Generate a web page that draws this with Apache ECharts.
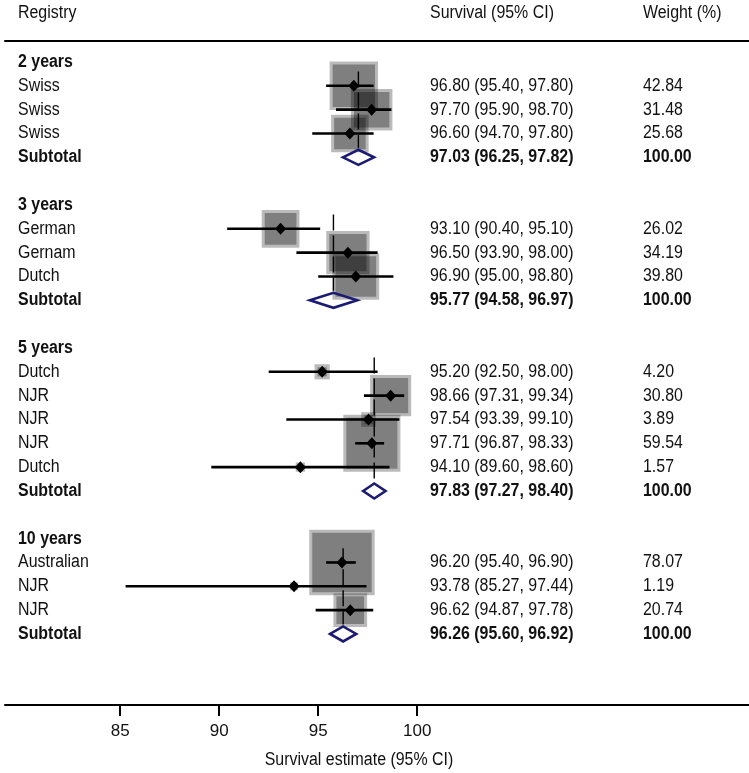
<!DOCTYPE html>
<html>
<head>
<meta charset="utf-8">
<script src="https://cdn.jsdelivr.net/npm/echarts@6/dist/echarts.min.js"></script>
<style>
  html, body { margin: 0; padding: 0; background: #fff; }
  #main { width: 749px; height: 773px; }
</style>
</head>
<body>
<div id="main"></div>
<script>
var chart = echarts.init(document.getElementById('main'));

// data
var groupNames = ['2 years', '3 years', '5 years', '10 years'];
var studyNames = [
  ['Swiss', 'Swiss', 'Swiss'],
  ['German', 'Gernam', 'Dutch'],
  ['Dutch', 'NJR', 'NJR', 'NJR', 'Dutch'],
  ['Australian', 'NJR', 'NJR']
];
var estimates = [
  [96.80, 97.70, 96.60],
  [93.10, 96.50, 96.90],
  [95.20, 98.66, 97.54, 97.71, 94.10],
  [96.20, 93.78, 96.62]
];
var lowerCI = [
  [95.40, 95.90, 94.70],
  [90.40, 93.90, 95.00],
  [92.50, 97.31, 93.39, 96.87, 89.60],
  [95.40, 85.27, 94.87]
];
var upperCI = [
  [97.80, 98.70, 97.80],
  [95.10, 98.00, 98.80],
  [98.00, 99.34, 99.10, 98.33, 98.60],
  [96.90, 97.44, 97.78]
];
var weights = [
  [42.84, 31.48, 25.68],
  [26.02, 34.19, 39.80],
  [4.20, 30.80, 3.89, 59.54, 1.57],
  [78.07, 1.19, 20.74]
];
var subEst = [97.03, 95.77, 97.83, 96.26];
var subLower = [96.25, 94.58, 97.27, 95.60];
var subUpper = [97.82, 96.97, 98.40, 96.92];
var subWeight = [100.00, 100.00, 100.00, 100.00];
var xTicks = [85, 90, 95, 100];

var FONT = '"Liberation Sans", Arial, Helvetica, sans-serif';
var FS = 18;
var SQUEEZE = 0.885;  // the original uses a slightly condensed face
var boxScale = 7.4;   // px of box side per sqrt(weight)

// build rows: header, studies, subtotal, blank
var textRows = [{ row: -2.05, label: 'Registry', ci: 'Survival (95% CI)', w: 'Weight (%)', bold: false }];
var studyPts = [], ciLines = [], subDiamonds = [], groupLines = [];
var r = 0;
function f2(v) { return v.toFixed(2); }
groupNames.forEach(function (g, gi) {
  var head = r;
  textRows.push({ row: r, label: g, ci: '', w: '', bold: true });
  r++;
  studyNames[gi].forEach(function (s, si) {
    var e = estimates[gi][si], lo = lowerCI[gi][si], hi = upperCI[gi][si], w = weights[gi][si];
    textRows.push({ row: r, label: s, ci: f2(e) + ' (' + f2(lo) + ', ' + f2(hi) + ')', w: f2(w), bold: false });
    studyPts.push([e, r, w]);
    ciLines.push([lo, hi, r]);
    r++;
  });
  textRows.push({ row: r, label: 'Subtotal',
    ci: f2(subEst[gi]) + ' (' + f2(subLower[gi]) + ', ' + f2(subUpper[gi]) + ')',
    w: f2(subWeight[gi]), bold: true });
  subDiamonds.push([subLower[gi], subEst[gi], subUpper[gi], r]);
  groupLines.push([subEst[gi], head + 0.4, r - 0.4]);
  r += 2;
});

option = {
  animation: false,
  backgroundColor: '#fff',
  grid: { left: 5, right: 0, top: 41, bottom: 68 },
  xAxis: [{
    type: 'value',
    min: 79.18,
    max: 116.76,
    position: 'bottom',
    axisLine: { onZero: false, lineStyle: { color: '#000', width: 2 } },
    axisTick: { customValues: xTicks, length: 11, lineStyle: { color: '#000', width: 2 } },
    axisLabel: { customValues: xTicks, color: '#111', fontSize: 17, fontFamily: FONT, margin: 18 },
    splitLine: { show: false }
  }, {
    type: 'value',
    min: 79.18,
    max: 116.76,
    position: 'top',
    axisLine: { onZero: false, lineStyle: { color: '#000', width: 2 } },
    axisTick: { show: false },
    axisLabel: { show: false },
    splitLine: { show: false }
  }],
  yAxis: {
    type: 'value',
    inverse: true,
    min: -0.88,
    max: 26.98,
    show: false,
    axisLine: { onZero: false }
  },
  graphic: [{
    type: 'text',
    x: 359,
    y: 760,
    scaleX: SQUEEZE,
    style: {
      text: 'Survival estimate (95% CI)',
      align: 'center',
      verticalAlign: 'middle',
      fontSize: FS,
      fontFamily: FONT,
      fill: '#111'
    }
  }],
  series: [
    { // weight boxes
      type: 'custom',
      silent: true,
      data: studyPts,
      renderItem: function (params, api) {
        var c = api.coord([api.value(0), api.value(1)]);
        var side = boxScale * Math.sqrt(api.value(2));
        var b = 3;
        return {
          type: 'group',
          children: [{
            type: 'rect',
            shape: { x: c[0] - side / 2, y: c[1] - side / 2, width: side, height: side },
            style: { fill: 'rgba(0,0,0,0.27)' }
          }, {
            type: 'rect',
            shape: { x: c[0] - side / 2 + b, y: c[1] - side / 2 + b,
                     width: Math.max(side - 2 * b, 0), height: Math.max(side - 2 * b, 0) },
            style: { fill: 'rgba(0,0,0,0.315)' }
          }]
        };
      }
    },
    { // overall line per group
      type: 'custom',
      silent: true,
      data: groupLines,
      renderItem: function (params, api) {
        var p1 = api.coord([api.value(0), api.value(1)]);
        var p2 = api.coord([api.value(0), api.value(2)]);
        return {
          type: 'line',
          shape: { x1: p1[0], y1: p1[1], x2: p2[0], y2: p2[1] },
          style: { stroke: '#000', lineWidth: 1.4, lineDash: [16, 5] }
        };
      }
    },
    { // confidence intervals
      type: 'custom',
      silent: true,
      data: ciLines,
      renderItem: function (params, api) {
        var p1 = api.coord([api.value(0), api.value(2)]);
        var p2 = api.coord([api.value(1), api.value(2)]);
        return {
          type: 'line',
          shape: { x1: p1[0], y1: p1[1], x2: p2[0], y2: p2[1] },
          style: { stroke: '#000', lineWidth: 2.6 }
        };
      }
    },
    { // point estimates
      type: 'scatter',
      silent: true,
      symbol: 'diamond',
      symbolSize: [11, 12],
      itemStyle: { color: '#000', opacity: 1 },
      data: studyPts.map(function (p) { return [p[0], p[1]]; })
    },
    { // subtotal diamonds
      type: 'custom',
      silent: true,
      data: subDiamonds,
      renderItem: function (params, api) {
        var row = api.value(3);
        var l = api.coord([api.value(0), row]);
        var m = api.coord([api.value(1), row]);
        var h = api.coord([api.value(2), row]);
        var hh = 7.5;
        return {
          type: 'polygon',
          shape: { points: [[l[0], l[1]], [m[0], m[1] - hh], [h[0], h[1]], [m[0], m[1] + hh]] },
          style: { fill: 'none', stroke: '#1b1b73', lineWidth: 2.6, lineJoin: 'miter' }
        };
      }
    },
    { // text columns
      type: 'custom',
      silent: true,
      data: textRows.map(function (t) { return [90, t.row]; }),
      renderItem: function (params, api) {
        var t = textRows[params.dataIndex];
        var y = api.coord([90, t.row])[1];
        function txt(x, s) {
          return {
            type: 'text',
            x: x,
            y: y,
            scaleX: SQUEEZE,
            style: {
              text: s,
              align: 'left',
              verticalAlign: 'middle',
              fontSize: FS,
              fontFamily: FONT,
              fontWeight: t.bold ? 'bold' : 'normal',
              fill: '#111'
            }
          };
        }
        return { type: 'group', children: [txt(18, t.label), txt(430, t.ci), txt(643, t.w)] };
      }
    }
  ]
};

chart.setOption(option);
</script>
</body>
</html>
